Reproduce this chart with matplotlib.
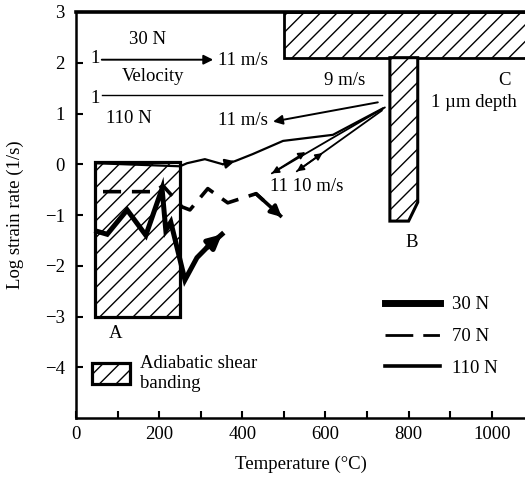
import matplotlib
matplotlib.use('Agg')
import matplotlib.pyplot as plt
from matplotlib.patches import Rectangle, Polygon
from matplotlib.lines import Line2D
from matplotlib.legend_handler import HandlerPatch
from matplotlib.ticker import MultipleLocator

plt.rcParams['font.family'] = ['Liberation Serif', 'DejaVu Serif']
plt.rcParams['hatch.linewidth'] = 1.0
plt.rcParams['hatch.color'] = 'black'

# Temperature (°C) and log strain rate (1/s) traces for each normal load
t30 = [50, 75, 123, 168, 207, 216, 228, 240, 262, 291, 315, 351]
s30 = [-1.32, -1.38, -0.90, -1.40, -0.48, -1.30, -1.14, -1.54, -2.28, -1.84, -1.64, -1.38]

t70 = [65, 190, 209, 255, 274, 317, 365, 433, 495]
s70 = [-0.54, -0.54, -0.42, -0.84, -0.90, -0.48, -0.76, -0.58, -1.04]

t110 = [48, 250, 267, 310, 353, 382, 425, 498, 618, 738]
s110 = [0.02, -0.04, 0.02, 0.10, 0.00, 0.06, 0.20, 0.46, 0.58, 1.10]

# Adiabatic shear banding regions (temperature span, strain-rate span)
regionA = (45, 250, -3.0, 0.05)
regionC = (500, 1100, 2.1, 3.0)
regionB = [(755, 2.1), (822, 2.1), (822, -0.75), (800, -1.12), (755, -1.12)]

fig = plt.figure(figsize=(5.25, 4.82), dpi=100)
ax = fig.add_axes([76 / 525, 1 - 418 / 482, 449 / 525, 406 / 482])
ax.set_xlim(0, 1080)
ax.set_ylim(-5, 3)

fs = 13.5
hatch = '//'

# shaded regions
rectA = Rectangle((regionA[0], regionA[2]), regionA[1] - regionA[0],
                  regionA[3] - regionA[2], facecolor='white',
                  edgecolor='black', lw=2.3, hatch=hatch, zorder=1)
ax.add_patch(rectA)
ax.add_patch(Rectangle((regionC[0], regionC[2]), regionC[1] - regionC[0],
                       regionC[3] - regionC[2], facecolor='white',
                       edgecolor='black', lw=2.0, hatch=hatch, zorder=1))
ax.add_patch(Polygon(regionB, closed=True, facecolor='white',
                     edgecolor='black', lw=2.2, hatch=hatch, zorder=1))

# load traces
ax.plot(t30, s30, color='black', lw=3.6, solid_joinstyle='miter', zorder=3)
ax.annotate('', xy=(t30[-1], s30[-1]), xytext=(t30[-2], s30[-2]),
            arrowprops=dict(arrowstyle='-|>', color='black', lw=3.6,
                            mutation_scale=20, shrinkA=0, shrinkB=0), zorder=3)

ax.plot(t70, s70, color='black', lw=2.6, dashes=(5, 3), zorder=3)
ax.annotate('', xy=(t70[-1], s70[-1]), xytext=(t70[-2], s70[-2]),
            arrowprops=dict(arrowstyle='-|>', color='black', lw=2.6,
                            mutation_scale=16, shrinkA=0, shrinkB=0), zorder=3)

ax.plot(t110, s110, color='black', lw=1.6, zorder=3)
ax.annotate('', xy=(t110[5], s110[5]), xytext=(t110[4], s110[4]),
            arrowprops=dict(arrowstyle='-|>', color='black', lw=1.6,
                            mutation_scale=14, shrinkA=0, shrinkB=0), zorder=3)

# velocity annotations
ax.annotate('', xy=(330, 2.06), xytext=(62, 2.06),
            arrowprops=dict(arrowstyle='-|>', color='black', lw=1.4,
                            mutation_scale=14, shrinkA=0, shrinkB=0))
ax.plot([62, 736], [1.36, 1.36], color='black', lw=1.0)
ax.annotate('', xy=(474, 0.84), xytext=(726, 1.22),
            arrowprops=dict(arrowstyle='-|>', color='black', lw=1.4,
                            mutation_scale=14, shrinkA=0, shrinkB=0))
for (x0, y0), (xm, ym), (x1, y1) in [((743, 1.12), (552, 0.24), (471, -0.18)),
                                     ((736, 1.06), (593, 0.22), (531, -0.14))]:
    ax.annotate('', xy=(x1, y1), xytext=(x0, y0),
                arrowprops=dict(arrowstyle='-|>', color='black', lw=1.3,
                                mutation_scale=10, shrinkA=0, shrinkB=0))
    ax.annotate('', xy=(xm, ym), xytext=(x1, y1),
                arrowprops=dict(arrowstyle='-|>', color='black', lw=1.3,
                                mutation_scale=10, shrinkA=0, shrinkB=0))

ax.text(171, 2.46, '30 N', fontsize=fs, ha='center', va='center')
ax.text(46, 2.08, '1', fontsize=fs, ha='center', va='center')
ax.text(341, 2.04, '11 m/s', fontsize=fs, ha='left', va='center')
ax.text(185, 1.72, 'Velocity', fontsize=fs, ha='center', va='center')
ax.text(46, 1.30, '1', fontsize=fs, ha='center', va='center')
ax.text(127, 0.90, '110 N', fontsize=fs, ha='center', va='center')
ax.text(401, 0.86, '11 m/s', fontsize=fs, ha='center', va='center')
ax.text(647, 1.66, '9 m/s', fontsize=fs, ha='center', va='center')
ax.text(1031, 1.66, 'C', fontsize=fs, ha='center', va='center')
ax.text(957, 1.22, '1 µm depth', fontsize=fs, ha='center', va='center')
ax.text(556, -0.44, '11 10 m/s', fontsize=fs, ha='center', va='center')
ax.text(808, -1.54, 'B', fontsize=fs, ha='center', va='center')
ax.text(96, -3.34, 'A', fontsize=fs, ha='center', va='center')

# legends
h_lines = [Line2D([], [], color='black', lw=5.0),
           Line2D([], [], color='black', lw=2.0, dashes=(10, 3.6, 6, 3.6)),
           Line2D([], [], color='black', lw=2.6)]
leg1 = ax.legend(h_lines, ['30 N', '70 N', '110 N'], loc='upper left',
                 bbox_to_anchor=(0.688, 0.30), frameon=False, fontsize=fs,
                 handlelength=2.95, handletextpad=0.65, labelspacing=0.78,
                 borderpad=0, borderaxespad=0)
ax.add_artist(leg1)


def make_band_handle(legend, orig_handle, xdescent, ydescent, width, height, fontsize):
    return Rectangle((-xdescent, -ydescent), width, height, facecolor='white',
                     edgecolor='black', lw=2.2, hatch=hatch)


ax.legend([rectA], ['Adiabatic shear\nbanding'], loc='upper left',
          bbox_to_anchor=(0.036, 0.155), frameon=False, fontsize=fs,
          handlelength=2.0, handleheight=1.3, handletextpad=0.55,
          borderpad=0, borderaxespad=0,
          handler_map={Rectangle: HandlerPatch(patch_func=make_band_handle)})

# axes styling
ax.spines['right'].set_visible(False)
ax.spines['top'].set_linewidth(2.6)
ax.spines['left'].set_linewidth(1.8)
ax.spines['bottom'].set_linewidth(1.8)
ax.xaxis.set_major_locator(MultipleLocator(200))
ax.xaxis.set_minor_locator(MultipleLocator(100))
ax.set_yticks(range(-4, 4))
ax.tick_params(axis='both', which='both', direction='in', length=5, width=1.5,
               labelsize=fs, top=False, right=False)
ax.tick_params(axis='x', pad=6)
ax.tick_params(axis='y', pad=8)
ax.set_xlabel('Temperature (°C)', fontsize=fs, labelpad=9)
ax.set_ylabel('Log strain rate (1/s)', fontsize=fs, labelpad=15)

fig.savefig('out.png', dpi=100)
